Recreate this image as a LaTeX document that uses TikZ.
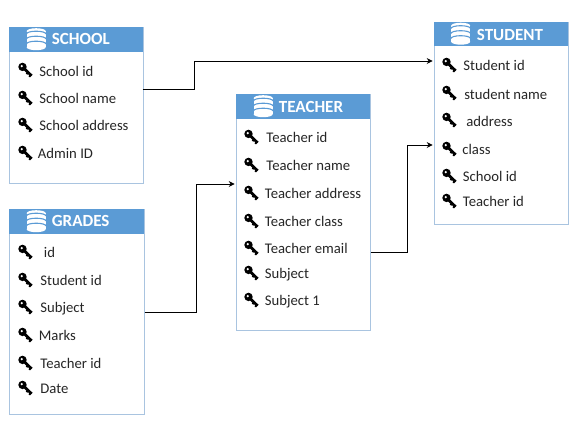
\documentclass[tikz,border=0pt]{standalone}
\usepackage{fontspec}
\setmainfont{Carlito}
\usetikzlibrary{arrows.meta}
\definecolor{hdr}{HTML}{5B9BD5}
\definecolor{edge}{HTML}{A9C4E0}
\tikzset{
  x=1pt,y=-1pt,
  tablebox/.style={draw=edge,line width=1pt,fill=white,inner sep=0pt,anchor=north west},
  headbar/.style={fill=hdr,draw=none,inner sep=0pt,anchor=north west},
  headtext/.style={font=\fontsize{17}{19}\selectfont\bfseries,text=white,anchor=west,inner sep=0pt},
  fieldtext/.style={font=\fontsize{14.7}{16}\selectfont,text=black!85,anchor=west,inner sep=0pt},
  conn/.style={draw=black,line width=0.8pt,-{Stealth[length=6pt,width=6pt]}},
}
% key icon
\newcommand{\keyicon}[2]{%
  \begin{scope}[shift={(#1,#2)}]
    \draw[black,line width=2.8pt] (-2.7,-0.3) -- (6.4,8.6);
    \draw[black,line width=1.9pt] (3,4.8) -- (1.4,7);
    \draw[black,line width=1.9pt] (5.6,7.6) -- (4,9.6);
    \fill[black] (-2.7,-0.3) circle (4.2);
    \fill[white] (-3.5,-1.1) circle (1.2);
  \end{scope}}
\newcommand{\dbicon}[2]{%
  \begin{scope}[shift={(#1,#2)}]
    \fill[white] (-9.5,-8) rectangle (9.5,8);
    \fill[white] (0,-8) ellipse (9.5 and 3);
    \fill[white] (0,8) ellipse (9.5 and 3);
    \foreach \yy in {-5.2,-0.2,4.8} {
      \draw[hdr,line width=1.1pt] (-9.8,\yy) arc[start angle=180,end angle=360,x radius=9.8,y radius=2.8];
    }
  \end{scope}}
\newcommand{\fieldrow}[6]{\keyicon{#2}{#3}\node[fieldtext] (#1) at (#4,#5) {#6};}
\begin{document}
\begin{tikzpicture}
\useasboundingbox (0,0) rectangle (584,426);
\fill[white] (0,0) rectangle (584,426);
\begin{scope}[shift={(-0.3,-0.3)}]

% SCHOOL
\node[tablebox,minimum width=134pt,minimum height=156pt] (school) at (9,27) {};
\node[headbar,minimum width=134pt,minimum height=25pt] (schoolh) at (9,27) {};
\dbicon{36.5}{39.5}
\node[headtext] (schoolt) at (52,39.5) {SCHOOL};
\fieldrow{s1}{25.5}{67.5}{39.5}{71.5}{School id}
\fieldrow{s2}{25.5}{95.5}{39.5}{99}{School name}
\fieldrow{s3}{25.5}{122.5}{39.5}{126}{School address}
\fieldrow{s4}{25.5}{150.5}{38}{154}{Admin ID}

% GRADES
\node[tablebox,minimum width=135pt,minimum height=205pt] (grades) at (9,209) {};
\node[headbar,minimum width=135pt,minimum height=25pt] (gradesh) at (9,209) {};
\dbicon{36.5}{221.5}
\node[headtext] (gradest) at (52,221.5) {GRADES};
\fieldrow{g1}{25.5}{249.5}{44}{253}{id}
\fieldrow{g2}{25.5}{277.5}{40.5}{281}{Student id}
\fieldrow{g3}{25.5}{304.5}{40.5}{308.7}{Subject}
\fieldrow{g4}{25.5}{332.5}{39}{336}{Marks}
\fieldrow{g5}{25.5}{360.5}{40.5}{364}{Teacher id}
\fieldrow{g6}{25.5}{385.5}{40.5}{389}{Date}

% TEACHER
\node[tablebox,minimum width=134pt,minimum height=236pt] (teacher) at (236,94) {};
\node[headbar,minimum width=134pt,minimum height=25pt] (teacherh) at (236,94) {};
\dbicon{263.5}{106.5}
\node[headtext] (teachert) at (279,107.5) {TEACHER};
\fieldrow{t1}{251.5}{134.5}{266.5}{138}{Teacher id}
\fieldrow{t2}{251.5}{162.5}{266.5}{166}{Teacher name}
\fieldrow{t3}{251.5}{190.5}{265}{194}{Teacher address}
\fieldrow{t4}{251.5}{218.5}{265}{222}{Teacher class}
\fieldrow{t5}{251.5}{245.5}{265}{249}{Teacher email}
\fieldrow{t6}{251.5}{270.5}{265}{274.7}{Subject}
\fieldrow{t7}{251.5}{297.5}{265}{301.7}{Subject 1}

% STUDENT
\node[tablebox,minimum width=134pt,minimum height=202pt] (student) at (434,22) {};
\node[headbar,minimum width=134pt,minimum height=24pt] (studenth) at (434,22) {};
\dbicon{461}{34}
\node[headtext] (studentt) at (477,35.7) {STUDENT};
\fieldrow{u1}{449.5}{62.5}{463.5}{66}{Student id}
\fieldrow{u2}{449.5}{90.5}{464.5}{94.5}{student name}
\fieldrow{u3}{449.5}{117.5}{466.5}{122.2}{address}
\fieldrow{u4}{449.5}{146.5}{462.5}{150}{class}
\fieldrow{u5}{449.5}{173.5}{463}{177}{School id}
\fieldrow{u6}{449.5}{198.5}{463}{202}{Teacher id}

% connectors
\coordinate (c1a) at (143,89.3);
\coordinate (c1b) at (433,61.3);
\coordinate (c2a) at (145,312.3);
\coordinate (c2b) at (235,184.3);
\coordinate (c3a) at (371,252.3);
\coordinate (c3b) at (433,145.3);
\draw[conn] (c1a) -- (195,89.3) -- (195,61.3) -- (c1b);
\draw[conn] (c2a) -- (197,312.3) -- (197,184.3) -- (c2b);
\draw[conn] (c3a) -- (408,252.3) -- (408,145.3) -- (c3b);
\end{scope}
\end{tikzpicture}
\end{document}
